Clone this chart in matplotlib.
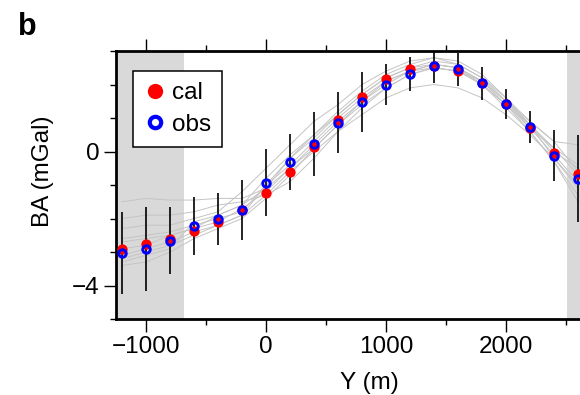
import matplotlib
matplotlib.use("Agg")
import matplotlib.pyplot as plt
from matplotlib.ticker import MultipleLocator, FixedLocator
from matplotlib.lines import Line2D

plt.rcParams['font.family'] = ['Liberation Sans', 'DejaVu Sans']

# ---------------- data ----------------
y_pos = [-1200, -1000, -800, -600, -400, -200, 0, 200, 400, 600,
         800, 1000, 1200, 1400, 1600, 1800, 2000, 2200, 2400, 2600]
ba_obs = [-3.04, -2.91, -2.66, -2.23, -2.01, -1.74, -0.93, -0.31, 0.22, 0.86,
          1.47, 2.00, 2.32, 2.54, 2.45, 2.04, 1.42, 0.73, -0.12, -0.81]
ba_cal = [-2.90, -2.76, -2.61, -2.38, -2.11, -1.74, -1.24, -0.62, 0.13, 0.93,
          1.62, 2.15, 2.47, 2.54, 2.40, 2.04, 1.42, 0.71, -0.04, -0.68]
ba_err = [1.22, 1.25, 1.00, 0.86, 0.77, 0.89, 1.00, 0.84, 0.96, 0.91,
          0.89, 0.62, 0.51, 0.50, 0.50, 0.49, 0.46, 0.48, 0.76, 1.29]

# individual model realisations (thin grey lines)
model_1 = [-1.5, -1.4, -1.45, -1.45, -1.4, -1.4, -1.1, -0.2, 0.5, 1.1, 1.7, 2.2, 2.5, 2.7, 2.6, 2.2, 1.6, 0.9, 0.3, 0.2]
model_2 = [-3.2, -3.0, -2.8, -2.5, -2.2, -1.9, -1.3, -0.6, 0.0, 0.6, 1.1, 1.6, 1.9, 2.0, 1.9, 1.6, 1.1, 0.5, -0.2, -1.0]
model_3 = [-3.3, -3.1, -2.9, -2.1, -1.9, -1.6, -0.8, -0.1, 0.5, 1.2, 1.8, 2.3, 2.6, 2.8, 2.7, 2.3, 1.6, 0.8, -0.2, -1.1]
model_4 = [-2.6, -2.5, -2.4, -2.2, -2.0, -1.8, -1.0, -0.4, 0.3, 1.0, 1.6, 2.1, 2.4, 2.6, 2.5, 2.1, 1.5, 0.8, 0.0, -0.5]
model_5 = [-3.4, -3.3, -3.0, -2.6, -2.3, -2.0, -1.4, -0.7, 0.1, 0.8, 1.5, 2.0, 2.4, 2.5, 2.4, 2.0, 1.4, 0.6, -0.3, -1.3]
model_6 = [-2.3, -2.2, -2.2, -2.0, -1.8, -1.2, -0.5, 0.2, 0.9, 1.4, 2.0, 2.4, 2.7, 2.8, 2.6, 2.2, 1.5, 0.7, 0.1, -0.4]
model_7 = [-2.9, -2.8, -2.5, -2.3, -2.1, -1.7, -1.2, -0.5, 0.2, 0.9, 1.5, 2.1, 2.4, 2.6, 2.5, 2.0, 1.3, 0.6, -0.3, -1.5]
model_8 = [-2.0, -1.9, -1.9, -1.8, -1.6, -1.5, -1.3, -0.9, -0.2, 0.6, 1.3, 1.9, 2.3, 2.5, 2.4, 2.1, 1.5, 0.9, 0.3, -0.6]
model_9 = [-3.1, -2.9, -2.7, -2.4, -2.2, -1.9, -1.0, -0.2, 0.4, 1.1, 1.7, 2.2, 2.5, 2.6, 2.5, 2.1, 1.4, 0.7, -0.1, -0.9]
model_10 = [-2.7, -2.6, -2.5, -2.3, -1.9, -1.6, -1.1, -0.5, 0.1, 0.8, 1.4, 1.9, 2.3, 2.5, 2.4, 2.0, 1.4, 0.8, 0.1, -0.7]
models = [model_1, model_2, model_3, model_4, model_5,
          model_6, model_7, model_8, model_9, model_10]

x_major_ticks = [-1000, 0, 1000, 2000]
x_minor_ticks = [-500, 500, 1500, 2500]
shade_left = (-1250, -685)
shade_right = (2505, 3000)
x_limits = (-1250, 3000)
y_limits = (-5, 3)

# ---------------- figure ----------------
W, H = 580, 395
fig = plt.figure(figsize=(W / 100, H / 100), dpi=100)
ax = fig.add_axes([116 / W, 76 / H, 510 / W, 268 / H])

ax.axvspan(*shade_left, color='#d9d9d9', lw=0, zorder=0)
ax.axvspan(*shade_right, color='#d9d9d9', lw=0, zorder=0)

for m in models:
    ax.plot(y_pos, m, color='#c4c4c4', lw=0.7, zorder=1)

ax.errorbar(y_pos, ba_obs, yerr=ba_err, fmt='none', ecolor='black',
            elinewidth=1.2, capsize=0, zorder=2)
ax.plot(y_pos, ba_cal, 'o', color='#ff0000', ms=7.4, mec='#ff0000', mew=0,
        zorder=3)
ax.plot(y_pos, ba_obs, 'o', mfc='none', mec='#0000ff', ms=5.4, mew=2.1,
        zorder=4)

ax.set_xlim(*x_limits)
ax.set_ylim(*y_limits)

ax.xaxis.set_major_locator(FixedLocator(x_major_ticks))
ax.xaxis.set_minor_locator(FixedLocator(x_minor_ticks))
ax.yaxis.set_major_locator(MultipleLocator(4))
ax.yaxis.set_minor_locator(MultipleLocator(1))

ax.tick_params(which='both', direction='out', top=True, right=False,
               labeltop=False, labelsize=17.5, width=1.0, color='black')
ax.tick_params(which='major', length=9, pad=3)
ax.tick_params(which='minor', length=4)

for side in ['left', 'bottom', 'top', 'right']:
    ax.spines[side].set_linewidth(2.0)

fig.text(43 / W, 1 - 171 / H, 'BA (mGal)', rotation=90, ha='center',
         va='center', fontsize=17.5)
fig.text(369 / W, 1 - 383 / H, 'Y (m)', ha='center', va='center',
         fontsize=17.5)
fig.text(18 / W, 1 - 35 / H, 'b', ha='left', va='baseline', fontsize=22,
         fontweight='bold')

handles = [
    Line2D([], [], ls='none', marker='o', color='#ff0000', mec='#ff0000',
           mew=0, ms=11, label='cal'),
    Line2D([], [], ls='none', marker='o', mfc='none', mec='#0000ff',
           mew=3.0, ms=8.2, label='obs'),
]
leg = ax.legend(handles=handles, loc='upper left',
                bbox_to_anchor=(0.033, 0.925),
                fontsize=17.5, frameon=True, fancybox=False,
                edgecolor='black', framealpha=1, handlelength=0.9,
                handletextpad=0.25, borderpad=0.45, labelspacing=0.4,
                borderaxespad=0)
leg.get_frame().set_linewidth(1.1)

fig.savefig('out.png', dpi=100)
